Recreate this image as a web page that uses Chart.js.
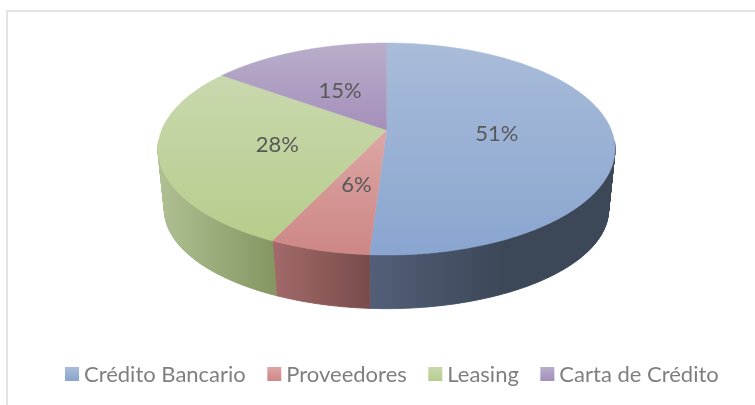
<!DOCTYPE html>
<html>
<head>
<meta charset="utf-8">
<style>
    html, body { margin: 0; padding: 0; background: #fff; overflow: hidden; }
    canvas { display: block; }
</style>
<script src="https://cdn.jsdelivr.net/npm/chart.js@4/dist/chart.umd.min.js"></script>
</head>
<body>
<canvas id="pieChart" width="755" height="405"></canvas>
<script>
// Chart data
const categories = ['Crédito Bancario', 'Proveedores', 'Leasing', 'Carta de Crédito'];
const percentages = [51, 6, 28, 15];

// Slice colours: [light, dark] for the top face and for the side wall
const topColors = [['#a9bcd9', '#89a5d0'], ['#dca6a5', '#cd8785'], ['#c9d8ae', '#b6cd8b'], ['#b9aecb', '#a48fba']];
const sideColors = [['#535f79', '#3c4758'], ['#a36a6a', '#784c4b'], ['#b0c093', '#859863'], ['#6b5f7a', '#6b5f7a']];

// Perspective of the two faces of the disc
const topFace = { rx: 224.8, h: 102.6, k: 0.1793 };
const bottomFace = { rx: 218.8, h: 96, k: 0.17, dy: 63 };

function project(arc, face, angle, r) {
    const u = Math.cos(angle) * r;
    const v = Math.sin(angle) * r;
    const d = 1 - face.k * v;
    return {
        x: arc.x + face.rx * u / d,
        y: arc.y + (face.dy || 0) + face.h * v / d,
        v: v
    };
}

function rimPoints(arc, face) {
    const points = [];
    const steps = Math.ceil((arc.endAngle - arc.startAngle) / 0.01);
    for (let i = 0; i <= steps; i++) {
        const a = arc.startAngle + (arc.endAngle - arc.startAngle) * i / steps;
        points.push(project(arc, face, a, 1));
    }
    return points;
}

function tracePath(ctx, points) {
    ctx.beginPath();
    points.forEach((p, i) => i ? ctx.lineTo(p.x, p.y) : ctx.moveTo(p.x, p.y));
    ctx.closePath();
}

const pie3dPlugin = {
    id: 'pie3d',
    beforeDraw(chart) {
        // Frame of the picture
        const ctx = chart.ctx;
        ctx.fillStyle = '#e4e4e4';
        ctx.fillRect(6, 10, 749, 2);
        ctx.fillRect(6, 10, 2, 395);
    },
    beforeDatasetDraw(chart) {
        const ctx = chart.ctx;
        const arcs = chart.getDatasetMeta(0).data;

        // Side wall first, only the front part of the rim can be seen
        arcs.forEach((arc, i) => {
            const upper = rimPoints(arc, topFace);
            const lower = rimPoints(arc, bottomFace);
            const seen = upper.filter(p => p.v > 0.1);
            if (!seen.length) return;
            const xs = seen.map(p => p.x);
            const grad = ctx.createLinearGradient(Math.min(...xs), 0, Math.max(...xs), 0);
            grad.addColorStop(0, sideColors[i][0]);
            grad.addColorStop(i === 0 ? 0.55 : 1, sideColors[i][1]);
            grad.addColorStop(1, sideColors[i][1]);
            // one quad per step, the two rims cross near the widest point
            ctx.beginPath();
            for (let s = 0; s < upper.length - 1; s++) {
                if (upper[s].v <= 0.1 || upper[s + 1].v <= 0.1) continue;
                ctx.moveTo(upper[s].x, upper[s].y);
                ctx.lineTo(upper[s + 1].x, upper[s + 1].y);
                ctx.lineTo(lower[s + 1].x, lower[s + 1].y);
                ctx.lineTo(lower[s].x, lower[s].y);
                ctx.closePath();
            }
            ctx.fillStyle = grad;
            ctx.fill();
            ctx.strokeStyle = grad;
            ctx.lineWidth = 0.8;
            ctx.stroke();
        });

        // Top face
        arcs.forEach((arc, i) => {
            const rim = rimPoints(arc, topFace);
            const points = [{ x: arc.x, y: arc.y }].concat(rim);
            const ys = points.map(p => p.y);
            const grad = ctx.createLinearGradient(0, Math.min(...ys), 0, Math.max(...ys));
            grad.addColorStop(0, topColors[i][0]);
            grad.addColorStop(1, topColors[i][1]);
            tracePath(ctx, points);
            ctx.fillStyle = grad;
            ctx.fill();
            ctx.strokeStyle = grad;
            ctx.lineWidth = 0.5;
            ctx.stroke();
        });
        return false;
    },
    afterDatasetsDraw(chart) {
        const ctx = chart.ctx;
        const arcs = chart.getDatasetMeta(0).data;

        // Percent labels
        ctx.font = '22px Lato';
        ctx.fillStyle = '#595959';
        ctx.textAlign = 'center';
        ctx.textBaseline = 'middle';
        arcs.forEach((arc, i) => {
            const p = project(arc, topFace, (arc.startAngle + arc.endAngle) / 2, 0.49);
            ctx.fillText(percentages[i] + '%', p.x, p.y + 2);
        });

        // Legend
        ctx.font = '22px Lato';
        ctx.textAlign = 'left';
        let x = 65;
        categories.forEach((name, i) => {
            const grad = ctx.createLinearGradient(0, 367, 0, 381);
            grad.addColorStop(0, topColors[i][0]);
            grad.addColorStop(1, topColors[i][1]);
            ctx.fillStyle = grad;
            ctx.fillRect(x, 367, 14, 14);
            ctx.fillStyle = '#7f7f7f';
            ctx.fillText(name, x + 19, 375);
            x += 19 + ctx.measureText(name).width + 21.5;
        });
    }
};

new Chart(document.getElementById('pieChart').getContext('2d'), {
    type: 'pie',
    data: {
        labels: categories,
        datasets: [{
            data: percentages,
            radius: topFace.rx,
            backgroundColor: topColors.map(c => c[1])
        }]
    },
    options: {
        responsive: false,
        animation: false,
        layout: { padding: { left: 18, bottom: 145 } },
        plugins: {
            legend: { display: false },
            tooltip: { enabled: false }
        }
    },
    plugins: [pie3dPlugin]
});
</script>
</body>
</html>
